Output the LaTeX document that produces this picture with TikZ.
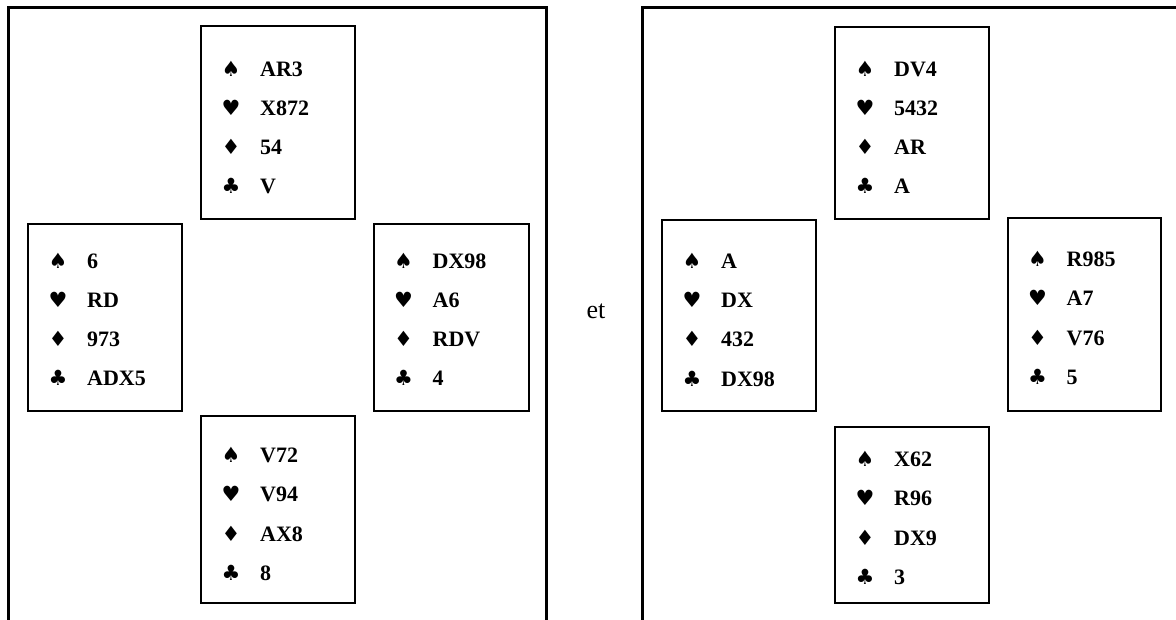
\documentclass[tikz,border=0pt]{standalone}
\usepackage{fontspec}
\setmainfont{Liberation Serif}
\newfontfamily\suitfont{DejaVu Sans}

% one hand: suit symbols in a column, holdings to their right
\newcommand\handrows[6]{%
  \node[suit]  (#1-sp) at ([shift={(31,#2+7)}]#1.north west) {♠};
  \node[cards] (#1-SP) at ([shift={(60,#2+7)}]#1.north west) {#3};
  \node[suit]  (#1-he) at ([shift={(31,#2+46.2)}]#1.north west) {♥};
  \node[cards] (#1-HE) at ([shift={(60,#2+46.2)}]#1.north west) {#4};
  \node[suit]  (#1-di) at ([shift={(31,#2+85.4)}]#1.north west) {♦};
  \node[cards] (#1-DI) at ([shift={(60,#2+85.4)}]#1.north west) {#5};
  \node[suit]  (#1-cl) at ([shift={(31,#2+124.6)}]#1.north west) {♣};
  \node[cards] (#1-CL) at ([shift={(60,#2+124.6)}]#1.north west) {#6};
}
% box given by its corners (left, top) and (right, bottom)
\newcommand\handbox[5]{%
  \node[handbox, minimum width={#4-#2}, minimum height={#5-#3}]
    (#1) at ({(#2+#4)/2},{(#3+#5)/2}) {};
}

\begin{document}
\begin{tikzpicture}[x=1pt,y=-1pt,
  frame/.style={line width=3pt},
  handbox/.style={draw,line width=2pt,rectangle,inner sep=0pt},
  suit/.style={anchor=base,font=\fontsize{21}{21}\suitfont,inner sep=0pt},
  cards/.style={anchor=base west,font=\fontsize{22}{22}\selectfont\bfseries,inner sep=0pt},
  conj/.style={anchor=base,font=\fontsize{26}{26}\selectfont,inner sep=0pt}]

\useasboundingbox (0,0) rectangle (1176,619);
\clip (0,0) rectangle (1176,619);

% first deal
\draw[frame] (8,625) -- (8,7.5) -- (546.5,7.5) -- (546.5,625);
\handbox{N1}{201}{26}{355}{219}
\handbox{W1}{28}{223.5}{182}{411}
\handbox{E1}{373.5}{224}{528.5}{411}
\handbox{S1}{201}{416}{355}{603}
\handrows{N1}{44}{AR3}{X872}{54}{V}
\handrows{W1}{38.5}{6}{RD}{973}{ADX5}
\handrows{E1}{38}{DX98}{A6}{RDV}{4}
\handrows{S1}{40.6}{V72}{V94}{AX8}{8}

\node[conj] (et) at (596,318) {et};

% second deal
\draw[frame] (642.5,625) -- (642.5,7.5) -- (1185,7.5);
\handbox{N2}{835}{26.5}{989}{219}
\handbox{W2}{662}{220}{815.5}{411}
\handbox{E2}{1007.5}{218}{1160.5}{411}
\handbox{S2}{835}{427}{989}{603}
\handrows{N2}{43.5}{DV4}{5432}{AR}{A}
\handrows{W2}{42.5}{A}{DX}{432}{DX98}
\handrows{E2}{42.6}{R985}{A7}{V76}{5}
\handrows{S2}{33.7}{X62}{R96}{DX9}{3}
\end{tikzpicture}
\end{document}
